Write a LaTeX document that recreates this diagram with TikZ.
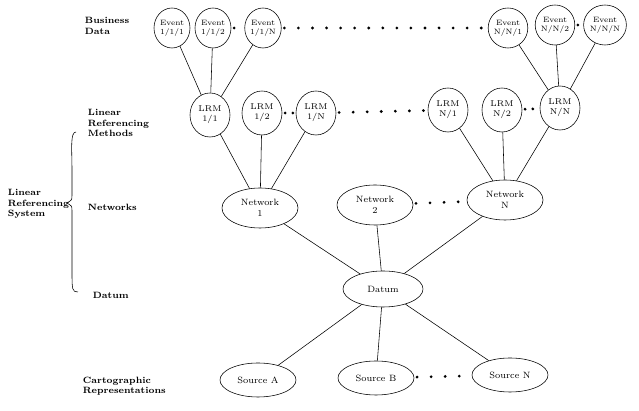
\documentclass[tikz,border=0pt]{standalone}
\usepackage{tikz}
\usetikzlibrary{shapes, positioning}

\tikzset{
    ev/.style={ellipse, draw, inner sep=0pt, minimum width=0.9cm, minimum height=1.0cm, align=center, font=\fontsize{5.5}{6.5}\selectfont},
    lrm/.style={ellipse, draw, inner sep=0pt, minimum width=1.0cm, minimum height=1.1cm, align=center, font=\fontsize{6}{7}\selectfont},
    big/.style={ellipse, draw, inner sep=0pt, minimum width=1.9cm, minimum height=1.0cm, align=center, font=\fontsize{6.5}{7.5}\selectfont},
    side/.style={align=left, anchor=west, font=\bfseries\fontsize{6.5}{7.5}\selectfont},
    dots/.style={line width=2.2pt, dash pattern=on 0pt off 5.5pt, line cap=round, shorten >=2pt, shorten <=2pt},
    wdots/.style={dots, dash pattern=on 0pt off 10pt}
}

\begin{document}
\begin{tikzpicture}[x=0.025cm, y=-0.025cm]
    \useasboundingbox (0,0) rectangle (639,411);

    % left labels
    \node[side] (bd) at (80,26) {Business\\Data};
    \node[side] (lrmlab) at (83,123) {Linear\\Referencing\\Methods};
    \node[side] (lrs) at (3,204) {Linear\\Referencing\\System};
    \node[side] (netlab) at (83,207) {Networks};
    \node[side] (datlab) at (88,295) {Datum};
    \node[side] (carto) at (78,386) {Cartographic\\Representations};
    \draw (76,132) .. controls (70,132) and (72,150) .. (72,170) -- (72,195) .. controls (72,200) .. (67,203)
          .. controls (72,206) .. (72,211) -- (72,270) .. controls (72,290) and (72,292) .. (78,292);

    % business data
    \node[ev] (e111) at (172,28) {Event\\1/1/1};
    \node[ev] (e112) at (213,28) {Event\\1/1/2};
    \node[ev] (e11n) at (263,28) {Event\\1/1/N};
    \node[ev] (enn1) at (508,28) {Event\\N/N/1};
    \node[ev] (enn2) at (555,25) {Event\\N/N/2};
    \node[ev] (ennn) at (605,25) {Event\\N/N/N};
    \draw[dots] (e112) -- (e11n);
    \draw[wdots] (e11n) -- (enn1);
    \draw[dots] (enn2) -- (ennn);

    % linear referencing methods
    \node[lrm] (l11) at (210,115) {LRM\\1/1};
    \node[lrm] (l12) at (262,113) {LRM\\1/2};
    \node[lrm] (l1n) at (316,113) {LRM\\1/N};
    \node[lrm] (ln1) at (448,110) {LRM\\N/1};
    \node[lrm] (ln2) at (502,110) {LRM\\N/2};
    \node[lrm] (lnn) at (560,108) {LRM\\N/N};
    \draw[dots] (l12) -- (l1n);
    \draw[wdots] (l1n) -- (ln1);
    \draw[dots] (ln2) -- (lnn);

    % networks, datum, sources
    \node[big] (net1) at (260,208) {Network\\1};
    \node[big] (net2) at (375,205) {Network\\2};
    \node[big] (netn) at (505,200) {Network\\N};
    \node[big, minimum width=2.0cm, minimum height=0.9cm] (datum) at (383,289) {Datum};
    \node[big, minimum height=0.85cm] (srca) at (258,380) {Source A};
    \node[big, minimum height=0.85cm] (srcb) at (376,378) {Source B};
    \node[big, minimum height=0.85cm] (srcn) at (510,375) {Source N};
    \draw[wdots] (net2) -- (netn);
    \draw[wdots] (srcb) -- (srcn);

    \foreach \e in {e111, e112, e11n} \draw (\e) -- (l11);
    \foreach \e in {enn1, enn2, ennn} \draw (\e) -- (lnn);
    \foreach \l in {l11, l12, l1n} \draw (\l) -- (net1);
    \foreach \l in {ln1, ln2, lnn} \draw (\l) -- (netn);
    \foreach \n in {net1, net2, netn} \draw (\n) -- (datum);
    \foreach \s in {srca, srcb, srcn} \draw (datum) -- (\s);
\end{tikzpicture}
\end{document}
